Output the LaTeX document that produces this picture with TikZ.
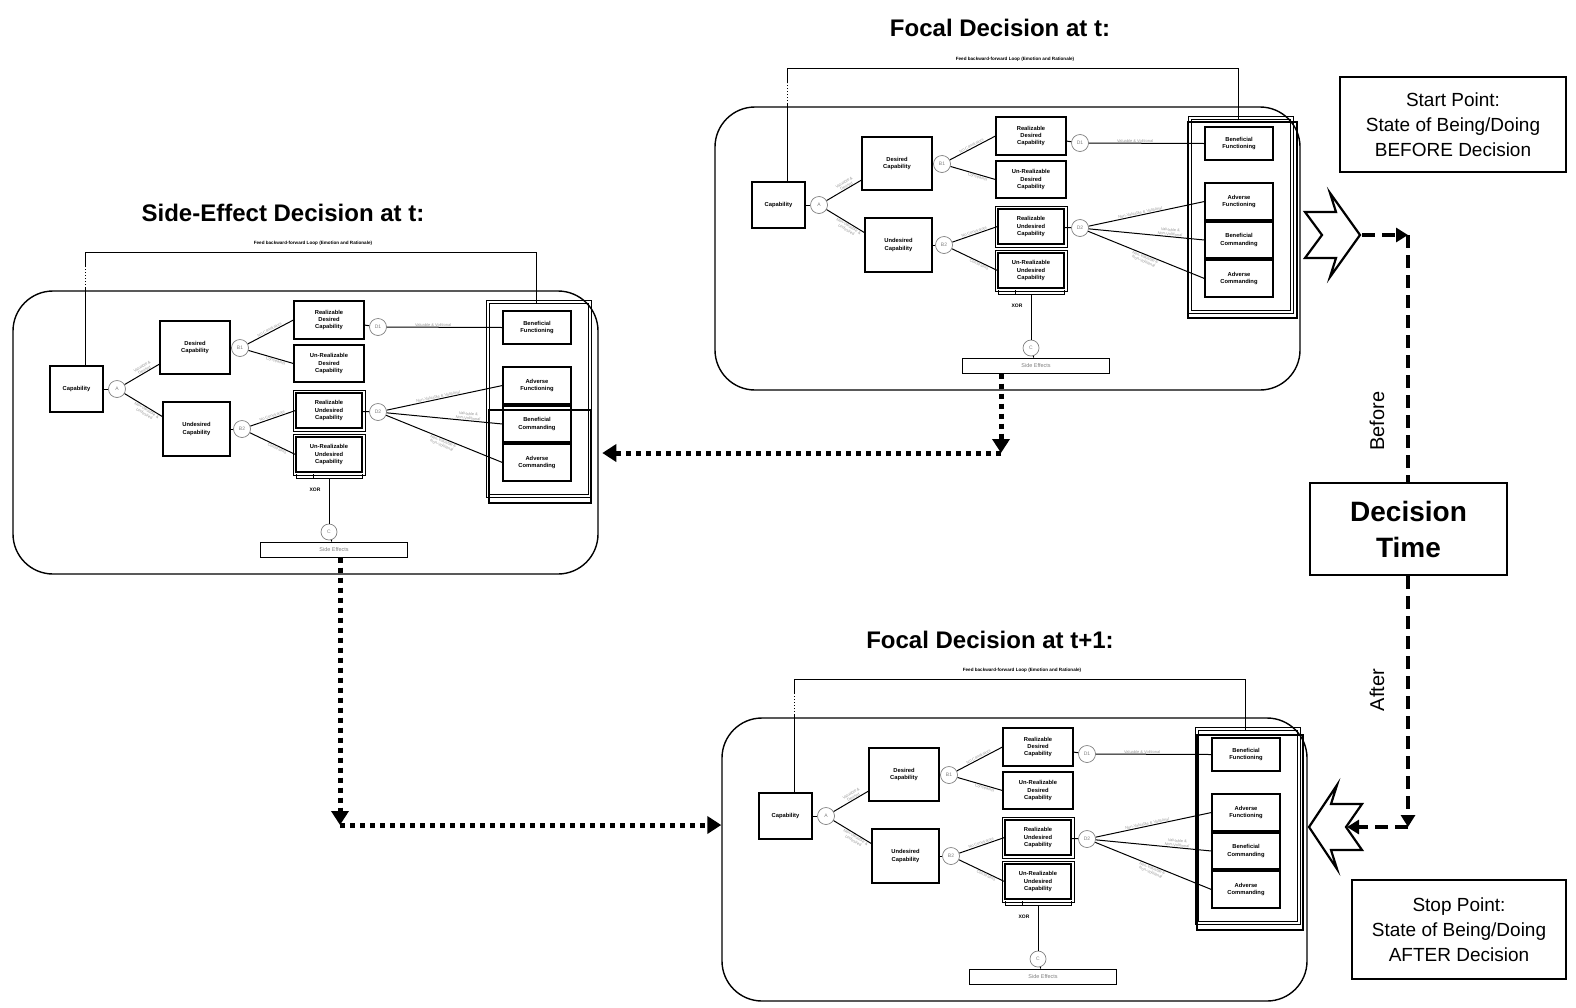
\documentclass[tikz,border=0pt]{standalone}
\usepackage{fontspec}
\setmainfont{Liberation Sans}
\usetikzlibrary{arrows.meta,calc}

\tikzset{
  cbox/.style={draw, line width=1.1pt, fill=white, align=center, inner sep=0pt,
    font=\fontsize{5.8}{7.2}\selectfont\bfseries},
  cnode/.style={circle, draw=gray, line width=0.7pt, fill=white, minimum size=17pt,
    inner sep=0pt, font=\fontsize{5}{5}\selectfont, text=gray},
  elbl/.style={font=\fontsize{4}{4.4}\selectfont, text=gray!80, align=center, inner sep=0.5pt},
  link/.style={line width=1pt},
  frame/.style={draw, line width=1.4pt, rounded corners=40pt, inner sep=0pt},
  hl/.style={draw, line width=2.6pt, inner sep=0pt},
  title/.style={font=\fontsize{24}{28}\selectfont\bfseries},
  infobox/.style={draw, line width=2pt, align=center, inner sep=0pt,
    font=\fontsize{19}{25}\selectfont},
  dashline/.style={line width=4.2pt, dash pattern=on 13pt off 7pt},
  dotline/.style={line width=5pt, dash pattern=on 5pt off 5pt},
  tip/.style={-{Triangle[length=14pt,width=17pt]}},
  star/.style={draw, line width=2.2pt, fill=white, line join=miter},
  outline/.style={draw, line width=0.6pt}
}

% One decision tree inside its rounded frame; #1 = name prefix, (#2,#3) = top-left corner
\newcommand\decisionpanel[3]{%
\begin{scope}[shift={(#2,#3)}]
  \node[frame, minimum width=585pt, minimum height=283pt] (#1frame) at (292.5,141.5) {};
  % feedback loop
  \coordinate (#1lp1) at (72,-3);
  \coordinate (#1lp2) at (72,-24);
  \coordinate (#1lp3) at (72,-39);
  \coordinate (#1lp4) at (523,-39);
  \node[font=\fontsize{4.6}{5}\selectfont\bfseries] (#1loop) at (300,-48)
    {Feed backward-forward Loop (Emotion and Rationale)};
  % tree nodes
  \node[cbox, minimum width=53pt, minimum height=46pt] (#1cap) at (63.5,98) {Capability};
  \node[cnode] (#1A) at (104,98) {A};
  \node[cbox, minimum width=70pt, minimum height=53pt] (#1des) at (182,56.5) {Desired\\Capability};
  \node[cbox, minimum width=67pt, minimum height=54pt] (#1und) at (183.5,138) {Undesired\\Capability};
  \node[cnode] (#1B1) at (227,57) {B1};
  \node[cnode] (#1B2) at (229,138) {B2};
  \node[cbox, minimum width=70pt, minimum height=38pt] (#1rd) at (316,29) {Realizable\\Desired\\Capability};
  \node[cbox, minimum width=70pt, minimum height=37pt] (#1urd) at (316,72.5) {Un-Realizable\\Desired\\Capability};
  \node[cbox, minimum width=66pt, minimum height=35pt] (#1ru) at (316,119.5) {Realizable\\Undesired\\Capability};
  \node[cbox, minimum width=66pt, minimum height=35pt] (#1uru) at (316,163.5) {Un-Realizable\\Undesired\\Capability};
  \draw[outline] ([shift={(-2.5pt,2.5pt)}]#1ru.north west) rectangle ([shift={(2.5pt,-2.5pt)}]#1ru.south east);
  \draw[outline] ([shift={(-2.5pt,2.5pt)}]#1uru.north west) rectangle ([shift={(2.5pt,-2.5pt)}]#1uru.south east);
  \node[cnode] (#1D1) at (365,36) {D1};
  \node[cnode] (#1D2) at (365,121) {D2};
  % outcome column
  \node[draw, line width=0.6pt, minimum width=99pt, minimum height=191pt] (#1grp) at (525.5,107.5) {};
  \draw[outline] ([shift={(-2.5pt,2.5pt)}]#1grp.north west) rectangle ([shift={(2.5pt,-2.5pt)}]#1grp.south east);
  \coordinate (#1lp5) at (523,12);
  \node[cbox, minimum width=68pt, minimum height=33pt] (#1bf) at (524,36.5) {Beneficial\\Functioning};
  \node[cbox, minimum width=68pt, minimum height=37pt] (#1af) at (524,94.5) {Adverse\\Functioning};
  \node[cbox, minimum width=68pt, minimum height=36pt] (#1bc) at (524,133) {Beneficial\\Commanding};
  \node[cbox, minimum width=68pt, minimum height=37pt] (#1ac) at (524,171.5) {Adverse\\Commanding};
  % XOR and side effects
  \coordinate (#1xl) at (283,187);
  \coordinate (#1xm) at (300,187);
  \coordinate (#1xr) at (349,187);
  \coordinate (#1xor) at (316,187);
  \node[font=\fontsize{5}{5}\selectfont\bfseries] (#1xlbl) at (302,199) {XOR};
  \node[cnode, minimum size=16pt] (#1C) at (316,241) {C};
  \node[draw, line width=1pt, minimum width=147pt, minimum height=15pt, inner sep=0pt,
    font=\fontsize{5.5}{5.5}\selectfont, text=gray] (#1se) at (321,258.5) {Side Effects};
  % connectors
  \draw[link] (#1cap.north -| #1lp1) -- (#1lp1);
  \draw[link, dotted] (#1lp1) -- (#1lp2);
  \draw[link] (#1lp2) -- (#1lp3) -- (#1lp4) -- (#1lp5);
  \draw[link] (#1cap) -- (#1A);
  \draw[link] (#1A) -- node[elbl, sloped, above, pos=0.6] {Valuable \&\\Desired} (#1des.205);
  \draw[link] (#1A) -- node[elbl, sloped, below, pos=0.62] {Non-Valuable \&\\Undesired} (#1und.160);
  \draw[link] (#1B1) -- node[elbl, sloped, above, pos=0.5] {No Constraints} (#1rd.west);
  \draw[link] (#1B1) -- node[elbl, sloped, below, pos=0.62] {Constraints} (#1urd.west);
  \draw[link] (#1des) -- (#1B1);
  \draw[link] (#1und) -- (#1B2);
  \draw[link] (#1B2) -- node[elbl, sloped, above, pos=0.5] {No Constraints} (#1ru.west);
  \draw[link] (#1B2) -- node[elbl, sloped, below, pos=0.62] {Constraints} (#1uru.west);
  \draw[link] (#1rd) -- (#1D1);
  \draw[link] (#1ru) -- (#1D2);
  \draw[link] (#1D1) -- node[elbl, above, pos=0.4] {Valuable \& Volitional} (#1bf.west);
  \draw[link] (#1D2) -- node[elbl, sloped, above, pos=0.45] {Non-Valuable \& Volitional} (#1af.west);
  \draw[link] (#1D2) -- node[elbl, sloped, above, pos=0.7] {Valuable \&\\Non-Volitional} (#1bc.west);
  \draw[link] (#1D2) -- node[elbl, sloped, below, pos=0.5] {Non-Valuable \&\\Non-Volitional} (#1ac.west);
  \draw[link] ($(#1xl)+(0,-4)$) -- (#1xl) -- (#1xr) -- ($(#1xr)+(0,-4)$);
  \draw[link] ($(#1xm)+(0,-4)$) -- (#1xm);
  \draw[link] (#1xor) -- (#1C);
  \draw[link] (#1C) -- (#1se);
\end{scope}}

\begin{document}
\begin{tikzpicture}[x=1pt, y=-1pt]
\useasboundingbox (0,0) rectangle (1576,1007);

% titles
\node[title] (t1) at (1000,28) {Focal Decision at t:};
\node[title] (t2) at (283,213) {Side-Effect Decision at t:};
\node[title] (t3) at (990,640) {Focal Decision at t+1:};

% the three decision trees
\decisionpanel{f}{715}{107}
\decisionpanel{s}{13}{291}
\decisionpanel{n}{722}{718}

% highlighted outcomes of each decision
\begin{scope}[shift={(715,107)}]
  \node[hl, minimum width=109pt, minimum height=196pt] (ffoc) at (527.5,113) {};
\end{scope}
\begin{scope}[shift={(13,291)}]
  \node[hl, minimum width=102pt, minimum height=93pt] (sfoc) at (527,165.5) {};
\end{scope}
\begin{scope}[shift={(722,718)}]
  \node[hl, minimum width=106pt, minimum height=195pt] (nfoc) at (528,114.5) {};
\end{scope}

% timeline
\node[infobox, minimum width=226pt, minimum height=95pt] (start) at (1453,124.5)
  {Start Point:\\State of Being/Doing\\BEFORE Decision};
\node[infobox, minimum width=214pt, minimum height=99pt] (stop) at (1459,929.5)
  {Stop Point:\\State of Being/Doing\\AFTER Decision};
\node[draw, line width=2.2pt, minimum width=197pt, minimum height=92pt, align=center,
  font=\fontsize{28}{36}\selectfont\bfseries] (dt) at (1408.5,529) {Decision\\Time};

% block arrows leaving and entering the focal outcomes
\draw[star] (1305,212) -- (1336,212) -- (1330,193) -- (1360,235) -- (1330,277)
  -- (1336,258) -- (1305,258) -- (1322,235) -- cycle;
\coordinate (s1tip) at (1362,235);
\draw[star] (1362,804) -- (1331,804) -- (1337,785) -- (1309,827) -- (1337,869)
  -- (1331,850) -- (1362,850) -- (1346,827) -- cycle;
\coordinate (s2back) at (1347,827);

\coordinate (cr1) at (1408,235);
\coordinate (cr2) at (1408,827);
\draw[dashline, -{Triangle[length=12pt,width=14pt]}] (s1tip) -- (cr1);
\draw[dashline] (cr1) -- (cr1 |- dt.north);
\draw[dashline, -{Triangle[length=12pt,width=14pt]}] (cr1 |- dt.south) -- (cr2);
\draw[dashline, -{Triangle[length=12pt,width=14pt]}] (cr2) -- (s2back);
\node[rotate=90, font=\fontsize{20}{20}\selectfont] (bef) at (1377,421) {Before};
\node[rotate=90, font=\fontsize{20}{20}\selectfont] (aft) at (1377,690) {After};

% side effects feeding the next decisions
\coordinate (d1c) at (1001,453);
\draw[dotline, tip] (fse.south -| d1c) -- (d1c);
\draw[dotline, tip, shorten >=10pt] (d1c) -- (sfoc.east |- d1c);
\coordinate (d2c) at (340,825);
\draw[dotline, tip] (sse.south -| d2c) -- (d2c);
\draw[dotline, tip] (d2c) -- (nframe.west |- d2c);
\end{tikzpicture}
\end{document}
